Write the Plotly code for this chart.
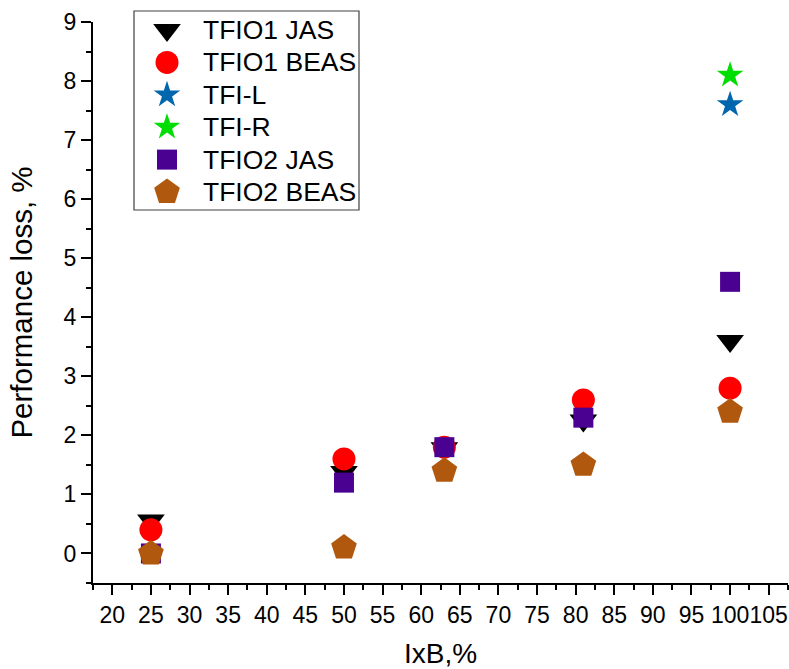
import plotly.graph_objects as go

# IxB load levels, %
ixb = [25, 50, 63, 81, 100]
ixb_full = [100]

# Performance loss, %
tfio1_jas = [0.56, 1.38, 1.78, 2.25, 3.6]
tfio1_beas = [0.4, 1.6, 1.8, 2.6, 2.8]
tfi_l = [7.6]
tfi_r = [8.1]
tfio2_jas = [0.0, 1.2, 1.8, 2.3, 4.6]
tfio2_beas = [0.0, 0.1, 1.4, 1.5, 2.4]

x_ticks = list(range(20, 106, 5))
y_ticks = list(range(0, 10))

FONT = "Arial, Liberation Sans, sans-serif"
W, H = 789, 669
L, R, T, B = 93, 1, 22, 86
PW, PH = W - L - R, H - T - B

series = [
    ("TFIO1 JAS", ixb, tfio1_jas, "triangle-down", 24, "#000000"),
    ("TFIO1 BEAS", ixb, tfio1_beas, "circle", 23, "#ff0000"),
    ("TFI-L", ixb_full, tfi_l, "star", 20, "#0066ae"),
    ("TFI-R", ixb_full, tfi_r, "star", 20, "#00dd00"),
    ("TFIO2 JAS", ixb, tfio2_jas, "square", 20, "#4a0090"),
    ("TFIO2 BEAS", ixb, tfio2_beas, "pentagon", 27, "#b0590e"),
]

fig = go.Figure()
for name, xs, ys, sym, size, col in series:
    fig.add_trace(go.Scatter(
        x=xs, y=ys, mode="markers", name=name, showlegend=False,
        cliponaxis=False,
        marker=dict(symbol=sym, size=size, color=col, line=dict(width=0)),
    ))


def px_x(p):
    return (p - L) / PW


def px_y(p):
    return (H - B - p) / PH


# Boxed key in the upper left of the plot
box_l, box_r, box_t, box_b = 134, 359, 11, 210
row0, row_gap = 30, 32.4
sym_x, text_x = 167, 201
fig.add_shape(type="rect", xref="paper", yref="paper",
              x0=px_x(box_l), x1=px_x(box_r), y0=px_y(box_b), y1=px_y(box_t),
              line=dict(color="#404040", width=1.2), fillcolor="rgba(0,0,0,0)",
              layer="below")
for i, (name, xs, ys, sym, size, col) in enumerate(series):
    yc = row0 + i * row_gap
    fig.add_trace(go.Scatter(
        x=[sym_x], y=[yc], xaxis="x2", yaxis="y2", mode="markers",
        showlegend=False, cliponaxis=False, hoverinfo="skip",
        marker=dict(symbol=sym, size=size, color=col, line=dict(width=0)),
    ))
    fig.add_annotation(xref="paper", yref="paper", x=px_x(text_x), y=px_y(yc),
                       text=name, showarrow=False, xanchor="left", yanchor="middle",
                       font=dict(family=FONT, size=26.5, color="black"))

axis_common = dict(
    showline=True, linecolor="black", linewidth=2, mirror=False,
    ticks="outside", ticklen=10, tickwidth=2, tickcolor="black",
    showgrid=False, zeroline=False, tickangle=0,
    tickfont=dict(family=FONT, size=23, color="black"),
)

fig.update_layout(
    width=W, height=H,
    margin=dict(l=L, r=R, t=T, b=B),
    paper_bgcolor="white", plot_bgcolor="white",
    showlegend=False,
    xaxis=dict(
        range=[17.5, 107.5], tickmode="array", tickvals=x_ticks,
        minor=dict(dtick=2.5, tick0=17.5, ticks="outside", ticklen=5,
                   tickwidth=2, tickcolor="black"),
        title=dict(text="IxB,%", font=dict(family=FONT, size=28, color="black"),
                   standoff=20),
        **axis_common,
    ),
    yaxis=dict(
        range=[-0.5, 9], tickmode="array", tickvals=y_ticks,
        minor=dict(dtick=0.5, tick0=-0.5, ticks="outside", ticklen=5,
                   tickwidth=2, tickcolor="black"),
        title=dict(text="Performance loss, %", font=dict(family=FONT, size=29.5, color="black"),
                   standoff=22),
        **axis_common,
    ),
    xaxis2=dict(overlaying="x", range=[L, L + PW], visible=False, fixedrange=True),
    yaxis2=dict(overlaying="y", range=[H - B, T], visible=False, fixedrange=True),
)

fig.write_html("out.html")
